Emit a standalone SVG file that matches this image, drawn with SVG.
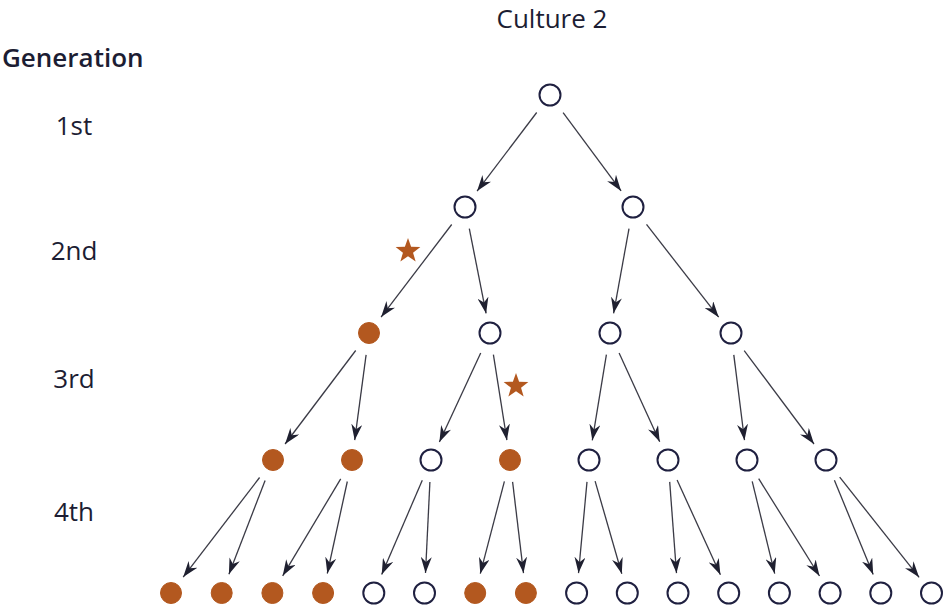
<svg xmlns="http://www.w3.org/2000/svg" width="944" height="611" viewBox="0 0 944 611">
<style>
.t{font-family:"Open Sans","Liberation Sans",sans-serif;fill:#1c1d33;font-size:26px}
.h{font-weight:600}
.o{fill:#fff;stroke:#1f2040;stroke-width:2}
.f{fill:#b3581f;stroke:#b3581f;stroke-width:1}
.e{stroke:#3b3b46;stroke-width:1.3;fill:none;marker-end:url(#ah)}
.s{fill:#b3581f}
</style>
<defs>
<marker id="ah" viewBox="0 0 16 11" refX="16" refY="5.5" markerWidth="16" markerHeight="11" markerUnits="userSpaceOnUse" orient="auto">
<path d="M0,0 L16,5.5 L0,11 L5,5.5 Z" fill="#1f2030"/>
</marker>
<path id="star" d="M0,-13 L3.115,-4.288 L12.364,-4.017 L5.041,1.638 L7.641,10.517 L0,5.3 L-7.641,10.517 L-5.041,1.638 L-12.364,-4.017 L-3.115,-4.288 Z"/>
</defs>
<g id="labels">
<text class="t" x="552" y="28" font-size="25" text-anchor="middle">Culture 2</text>
<text class="t h" x="2" y="67">Generation</text>
<text class="t" x="74" y="135" text-anchor="middle">1st</text>
<text class="t" x="74" y="260" text-anchor="middle">2nd</text>
<text class="t" x="74" y="388" text-anchor="middle">3rd</text>
<text class="t" x="74" y="521" text-anchor="middle">4th</text>
</g>
<g id="connectors">
<line class="e" x1="536.7" y1="112.5" x2="477.1" y2="191.1"/>
<line class="e" x1="563.1" y1="112.7" x2="621.1" y2="190.9"/>
<line class="e" x1="451.7" y1="224.5" x2="381.1" y2="317.1"/>
<line class="e" x1="469.3" y1="228.6" x2="486.1" y2="313.4"/>
<line class="e" x1="629.0" y1="228.6" x2="613.6" y2="313.3"/>
<line class="e" x1="646.5" y1="224.4" x2="718.7" y2="317.2"/>
<line class="e" x1="355.7" y1="350.5" x2="285.1" y2="444.0"/>
<line class="e" x1="366.1" y1="354.8" x2="354.7" y2="440.2"/>
<line class="e" x1="480.7" y1="353.0" x2="439.4" y2="441.9"/>
<line class="e" x1="493.4" y1="354.7" x2="506.9" y2="440.2"/>
<line class="e" x1="606.4" y1="354.7" x2="592.3" y2="440.3"/>
<line class="e" x1="619.1" y1="353.0" x2="659.7" y2="441.8"/>
<line class="e" x1="733.8" y1="354.8" x2="744.5" y2="440.2"/>
<line class="e" x1="744.2" y1="350.6" x2="814.0" y2="444.0"/>
<line class="e" x1="259.6" y1="477.5" x2="183.2" y2="577.1"/>
<line class="e" x1="265.1" y1="480.5" x2="228.9" y2="574.3"/>
<line class="e" x1="340.7" y1="478.9" x2="282.7" y2="575.8"/>
<line class="e" x1="347.3" y1="481.5" x2="327.3" y2="573.5"/>
<line class="e" x1="422.3" y1="480.2" x2="381.7" y2="574.6"/>
<line class="e" x1="429.9" y1="482.0" x2="425.5" y2="573.0"/>
<line class="e" x1="504.4" y1="481.3" x2="480.3" y2="573.7"/>
<line class="e" x1="512.6" y1="481.8" x2="523.5" y2="573.1"/>
<line class="e" x1="587.0" y1="481.9" x2="578.5" y2="573.1"/>
<line class="e" x1="595.1" y1="481.1" x2="621.8" y2="573.8"/>
<line class="e" x1="669.7" y1="481.9" x2="676.5" y2="573.1"/>
<line class="e" x1="677.1" y1="480.0" x2="720.4" y2="574.8"/>
<line class="e" x1="752.2" y1="481.4" x2="774.7" y2="573.6"/>
<line class="e" x1="758.7" y1="478.7" x2="819.5" y2="576.0"/>
<line class="e" x1="834.4" y1="480.3" x2="873.2" y2="574.5"/>
<line class="e" x1="839.7" y1="477.2" x2="919.1" y2="577.3"/>
</g>
<g id="markers-star">
<use href="#star" class="s" x="408" y="251"/>
<use href="#star" class="s" x="516" y="386"/>
</g>
<g id="n1"><circle class="o" cx="550" cy="95" r="10.5"/></g>
<g id="n2a"><circle class="o" cx="465" cy="207" r="10.5"/></g>
<g id="n2b"><circle class="o" cx="633" cy="207" r="10.5"/></g>
<g id="n3a"><circle class="f" cx="369" cy="333" r="10.5"/></g>
<g id="n3b"><circle class="o" cx="490" cy="333" r="10.5"/></g>
<g id="n3c"><circle class="o" cx="610" cy="333" r="10.5"/></g>
<g id="n3d"><circle class="o" cx="731" cy="333" r="10.5"/></g>
<g id="n4a"><circle class="f" cx="273" cy="460" r="10.5"/></g>
<g id="n4b"><circle class="f" cx="352" cy="460" r="10.5"/></g>
<g id="n4c"><circle class="o" cx="431" cy="460" r="10.5"/></g>
<g id="n4d"><circle class="f" cx="510" cy="460" r="10.5"/></g>
<g id="n4e"><circle class="o" cx="589" cy="460" r="10.5"/></g>
<g id="n4f"><circle class="o" cx="668" cy="460" r="10.5"/></g>
<g id="n4g"><circle class="o" cx="747" cy="460" r="10.5"/></g>
<g id="n4h"><circle class="o" cx="826" cy="460" r="10.5"/></g>
<g id="n5a"><circle class="f" cx="171" cy="593" r="10.5"/></g>
<g id="n5b"><circle class="f" cx="221.7" cy="593" r="10.5"/></g>
<g id="n5c"><circle class="f" cx="272.4" cy="593" r="10.5"/></g>
<g id="n5d"><circle class="f" cx="323.1" cy="593" r="10.5"/></g>
<g id="n5e"><circle class="o" cx="373.8" cy="593" r="10.5"/></g>
<g id="n5f"><circle class="o" cx="424.5" cy="593" r="10.5"/></g>
<g id="n5g"><circle class="f" cx="475.2" cy="593" r="10.5"/></g>
<g id="n5h"><circle class="f" cx="525.9" cy="593" r="10.5"/></g>
<g id="n5i"><circle class="o" cx="576.6" cy="593" r="10.5"/></g>
<g id="n5j"><circle class="o" cx="627.3" cy="593" r="10.5"/></g>
<g id="n5k"><circle class="o" cx="678" cy="593" r="10.5"/></g>
<g id="n5l"><circle class="o" cx="728.7" cy="593" r="10.5"/></g>
<g id="n5m"><circle class="o" cx="779.4" cy="593" r="10.5"/></g>
<g id="n5n"><circle class="o" cx="830.1" cy="593" r="10.5"/></g>
<g id="n5o"><circle class="o" cx="880.8" cy="593" r="10.5"/></g>
<g id="n5p"><circle class="o" cx="931.5" cy="593" r="10.5"/></g>
</svg>
